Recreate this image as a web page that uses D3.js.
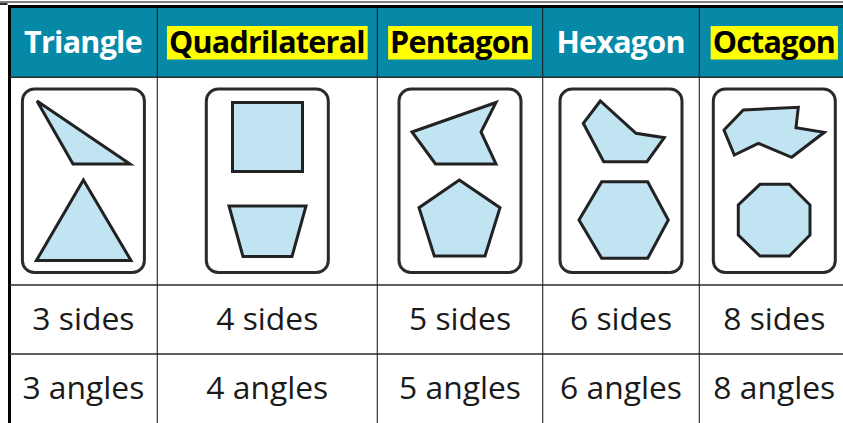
<!DOCTYPE html>
<html><head><meta charset="utf-8">
<script src="https://cdn.jsdelivr.net/npm/d3@7"></script>
<style>html,body{margin:0;padding:0;background:#fff;overflow:hidden}svg{display:block}</style>
</head><body>
<svg id="c" width="843" height="423"></svg>
<script>
// ---------- data ----------
const categories = ["Triangle", "Quadrilateral", "Pentagon", "Hexagon", "Octagon"];
const highlighted = [false, true, true, false, true];
const sidesCount = [3, 4, 5, 6, 8];
const anglesCount = [3, 4, 5, 6, 8];
const sidesLabels = sidesCount.map(n => n + " sides");
const anglesLabels = anglesCount.map(n => n + " angles");
// shape vertices in card units: x relative to card centre, y from card top
const topShapes = [
  [[-46.4,12],[-10.4,75],[46.6,75]],
  [[-34.8,13.5],[35.2,13.5],[35.2,82.5],[-34.8,82.5]],
  [[-48,43],[36,13.5],[21,43],[36,75],[-24.5,75]],
  [[-20.7,12],[-37.7,34.3],[-17.3,72.7],[26,72.7],[43.3,48.7],[15,44.3]],
  [[-31,21],[24,18.3],[21.7,38.7],[50,43.3],[17.4,68.3],[-16,54.3],[-40,66],[-50.3,41]]
];
const bottomShapes = [
  [[0,91],[47.6,171.5],[-47,171.5]],
  [[-38.3,117],[38.7,117],[24.7,167.5],[-24.3,167.5]],
  [[-0.7,91],[40,118.7],[25,167],[-25.7,167],[-41,118.7]],
  [[-19.3,92.7],[26.7,92.7],[47.3,131],[26.7,169.3],[-19.3,169.3],[-42,131]],
  [[-14.3,95.3],[15,95.3],[35.7,116],[35.7,146],[15,167],[-14.3,167],[-36,146],[-36,116]]
];

// ---------- layout ----------
const W = 843, H = 423;
const colEdges = [9.5, 157.3, 377.3, 542.7, 699.3, 849.3];
const headerTop = 8, headerBottom = 77.3, imgBottom = 285, sidesBottom = 354;
const cardTop = 89, cardH = 183.5, cardW = 122;
const teal = "#0688a7", fillBlue = "#c0e4f2", ink = "#222";

const svg = d3.select("#c");
const centers = categories.map((c,i) => (colEdges[i] + colEdges[i+1]) / 2);
const xCol = d3.scaleOrdinal(categories, centers);
const yCard = d3.scaleLinear().domain([0, cardH]).range([cardTop, cardTop + cardH]);

// header background
svg.append("rect").attr("x", colEdges[0]).attr("y", headerTop)
  .attr("width", W - colEdges[0]).attr("height", headerBottom - headerTop).attr("fill", teal);

// outer top lines
svg.append("line").attr("x1", 0).attr("x2", W).attr("y1", 2).attr("y2", 2).attr("stroke", "#000").attr("stroke-width", 1);
svg.append("rect").attr("x", 0).attr("y", 3.2).attr("width", 7.5).attr("height", 1.6).attr("fill", "#000");
svg.append("line").attr("x1", 8).attr("x2", W).attr("y1", 6.5).attr("y2", 6.5).attr("stroke", "#000").attr("stroke-width", 3);
svg.append("line").attr("x1", 9.5).attr("x2", 9.5).attr("y1", 5).attr("y2", H).attr("stroke", "#000").attr("stroke-width", 3);

// row lines
[headerBottom, imgBottom, sidesBottom].forEach(y => {
  svg.append("line").attr("x1", 9.5).attr("x2", W).attr("y1", y).attr("y2", y)
    .attr("stroke", "#2a2a2a").attr("stroke-width", 1.4);
});
// column lines
colEdges.slice(1, 5).forEach(x => {
  svg.append("line").attr("x1", x).attr("x2", x).attr("y1", 8).attr("y2", H)
    .attr("stroke", "#222").attr("stroke-width", 1.1);
});

// header text
const hdrFont = "'Open Sans', sans-serif";
const bodyFont = "'Open Sans', sans-serif";
function measure(text, weight, family, size) {
  const t = svg.append("text").attr("font-family", family).attr("font-weight", weight)
    .attr("font-size", size).text(text);
  const w = t.node().getComputedTextLength(); t.remove();
  return w;
}
const hdrSize = 30.5;
const hdrSpacing = (196 - measure("Quadrilateral", 700, hdrFont, hdrSize)) / 13;
const bodySize = 122 * 100 / measure("3 angles", 400, bodyFont, 100);

const hg = svg.append("g");
categories.forEach((c, i) => {
  const t = hg.append("text").attr("x", xCol(c) + hdrSpacing / 2).attr("y", 52.5)
    .attr("text-anchor", "middle").attr("font-family", hdrFont).attr("font-weight", 700)
    .attr("font-size", hdrSize).attr("letter-spacing", hdrSpacing)
    .attr("fill", highlighted[i] ? "#000" : "#fff").text(c);
  if (highlighted[i]) {
    const w = t.node().getComputedTextLength() - hdrSpacing;
    hg.insert("rect", "text").attr("x", xCol(c) - w/2 - 2).attr("y", 26)
      .attr("width", w + 4).attr("height", 33.5).attr("fill", "#ffff00");
  }
});

// cards and shapes
categories.forEach((c, i) => {
  const cx = xCol(c);
  const xs = d3.scaleLinear().domain([-cardW/2, cardW/2]).range([cx - cardW/2, cx + cardW/2]);
  svg.append("rect").attr("x", xs(-cardW/2)).attr("y", yCard(0))
    .attr("width", cardW).attr("height", cardH).attr("rx", 12).attr("ry", 12)
    .attr("fill", "#fff").attr("stroke", "#2a2a2a").attr("stroke-width", 3);
  const line = d3.line().x(d => xs(d[0])).y(d => yCard(d[1])).curve(d3.curveLinearClosed);
  [topShapes[i], bottomShapes[i]].forEach(pts => {
    svg.append("path").attr("d", line(pts)).attr("fill", fillBlue)
      .attr("stroke", ink).attr("stroke-width", 3).attr("stroke-linejoin", "miter");
  });
});

// body rows
categories.forEach((c, i) => {
  svg.append("text").attr("x", xCol(c)).attr("y", 330).attr("text-anchor", "middle")
    .attr("font-family", bodyFont).attr("font-size", bodySize).attr("fill", "#1a1a1a").text(sidesLabels[i]);
  svg.append("text").attr("x", xCol(c)).attr("y", 398.5).attr("text-anchor", "middle")
    .attr("font-family", bodyFont).attr("font-size", bodySize).attr("fill", "#1a1a1a").text(anglesLabels[i]);
});
</script>
</body></html>
